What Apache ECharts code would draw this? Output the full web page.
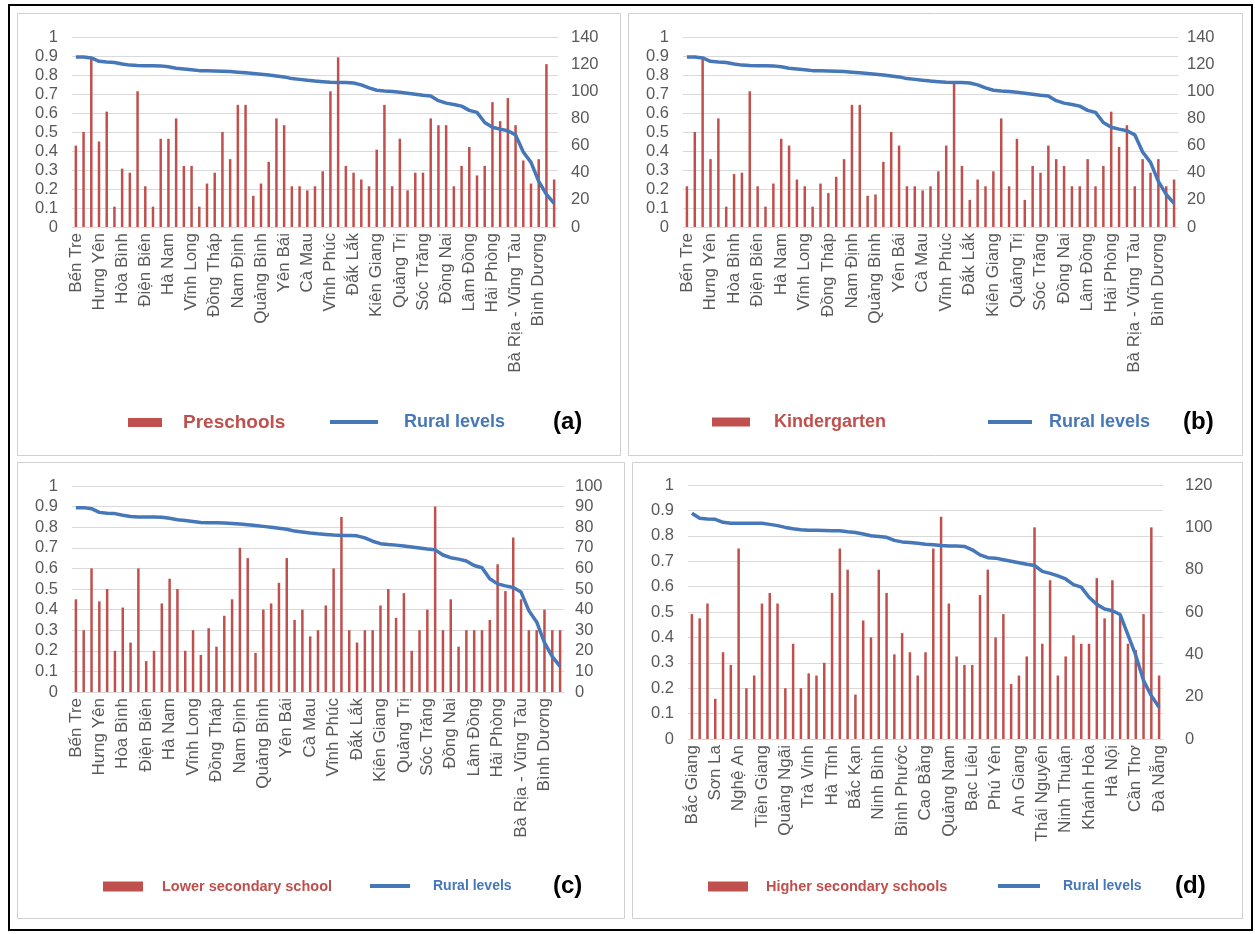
<!DOCTYPE html>
<html>
<head>
<meta charset="utf-8">
<script src="https://cdn.jsdelivr.net/npm/echarts@6/dist/echarts.min.js"></script>
<style>
html,body{margin:0;padding:0;background:#fff;}
#chart{width:1255px;height:934px;}
</style>
</head>
<body>
<div id="chart"></div>
<script>
// Categories (provinces) – every third label is shown
const provincesABC = ["Bến Tre","Bắc Giang","TP Hồ Chí Minh","Hưng Yên","Sơn La","Hà Giang","Hòa Bình","Nghệ An","Tuyên Quang","Điện Biên","Tiền Giang","Lào Cai","Hà Nam","Quảng Ngãi","Lai Châu","Vĩnh Long","Trà Vinh","Lạng Sơn","Đồng Tháp","Hà Tĩnh","Quảng Ninh","Nam Định","Bắc Kạn","Phú Thọ","Quảng Bình","Ninh Bình","Bắc Ninh","Yên Bái","Bình Phước","Hải Dương","Cà Mau","Cao Bằng","Thái Bình","Vĩnh Phúc","Quảng Nam","Thanh Hóa","Đắk Lắk","Bạc Liêu","Thừa Thiên Huế","Kiên Giang","Phú Yên","Bình Định","Quảng Trị","An Giang","Bình Thuận","Sóc Trăng","Thái Nguyên","Kon Tum","Đồng Nai","Ninh Thuận","Gia Lai","Lâm Đồng","Khánh Hòa","Đắk Nông","Hải Phòng","Hà Nội","Tây Ninh","Bà Rịa - Vũng Tàu","Cần Thơ","Long An","Bình Dương","Đà Nẵng","Hậu Giang"];
const provincesD = ["Bắc Giang","TP Hồ Chí Minh","Hưng Yên","Sơn La","Hà Giang","Hòa Bình","Nghệ An","Tuyên Quang","Điện Biên","Tiền Giang","Lào Cai","Hà Nam","Quảng Ngãi","Lai Châu","Vĩnh Long","Trà Vinh","Lạng Sơn","Đồng Tháp","Hà Tĩnh","Quảng Ninh","Nam Định","Bắc Kạn","Phú Thọ","Quảng Bình","Ninh Bình","Bắc Ninh","Yên Bái","Bình Phước","Hải Dương","Cà Mau","Cao Bằng","Thái Bình","Vĩnh Phúc","Quảng Nam","Thanh Hóa","Đắk Lắk","Bạc Liêu","Thừa Thiên Huế","Kiên Giang","Phú Yên","Bình Định","Quảng Trị","An Giang","Bình Thuận","Sóc Trăng","Thái Nguyên","Kon Tum","Đồng Nai","Ninh Thuận","Gia Lai","Lâm Đồng","Khánh Hòa","Đắk Nông","Hải Phòng","Hà Nội","Tây Ninh","Bà Rịa - Vũng Tàu","Cần Thơ","Long An","Bình Dương","Đà Nẵng"];

// Rural levels (left axis, 0–1)
const ruralABC = [0.895,0.895,0.89,0.872,0.868,0.866,0.858,0.852,0.85,0.849,0.849,0.848,0.843,0.836,0.832,0.828,0.823,0.822,0.821,0.82,0.818,0.815,0.812,0.808,0.804,0.8,0.795,0.79,0.781,0.777,0.772,0.768,0.765,0.762,0.76,0.76,0.758,0.748,0.732,0.72,0.716,0.713,0.709,0.704,0.699,0.694,0.69,0.665,0.652,0.645,0.636,0.614,0.603,0.55,0.525,0.515,0.507,0.485,0.395,0.34,0.24,0.172,0.124];
const ruralD = [0.889,0.869,0.866,0.865,0.853,0.849,0.849,0.849,0.849,0.849,0.845,0.84,0.833,0.828,0.824,0.822,0.822,0.821,0.82,0.82,0.816,0.813,0.807,0.8,0.797,0.794,0.782,0.776,0.774,0.771,0.767,0.765,0.762,0.76,0.76,0.758,0.745,0.725,0.714,0.712,0.706,0.7,0.694,0.688,0.683,0.66,0.652,0.642,0.63,0.608,0.598,0.558,0.53,0.512,0.505,0.49,0.41,0.33,0.23,0.17,0.125];

// School values (right axis)
const preschools = [60,70,125,63,85,15,43,40,100,30,15,65,65,80,45,45,15,32,40,70,50,90,90,23,32,48,80,75,30,30,27,30,41,100,125,45,40,35,30,57,90,30,65,27,40,40,80,75,75,30,45,59,38,45,92,78,95,75,49,32,50,120,35];
const kindergarten = [30,70,125,50,80,15,39,40,100,30,15,32,65,60,35,30,15,32,25,37,50,90,90,23,24,48,70,60,30,30,27,30,41,60,106,45,20,35,30,41,80,30,65,20,45,40,60,50,45,30,30,50,30,45,85,59,75,30,50,40,50,30,35];
const lowerSecondary = [45,30,60,44,50,20,41,24,60,15,20,43,55,50,20,30,18,31,22,37,45,70,65,19,40,43,53,65,35,40,27,30,42,60,85,30,24,30,30,42,50,36,48,20,30,40,90,30,45,22,30,30,30,35,62,49,75,45,30,30,40,30,30];
const higherSecondary = [59,57,64,19,41,35,90,24,30,64,69,64,24,45,24,31,30,36,69,90,80,21,56,48,80,69,40,50,41,30,41,90,105,64,39,35,35,68,80,48,59,26,30,39,100,45,75,30,39,49,45,45,76,57,75,58,45,42,59,100,30];

// Axis tick settings
const leftTicks = {min:0, max:1, interval:0.1};
const rightTicks = [{max:140, interval:20},{max:140, interval:20},{max:100, interval:10},{max:120, interval:20}];
const barNames = ["Preschools","Kindergarten","Lower secondary school","Higher secondary schools"];
const panelTags = ["(a)","(b)","(c)","(d)"];

const RED = '#c0504d', BLUE = '#4677b8', GRAY = '#595959';
const FONT = 'Liberation Sans';

const grids = [
  {left:72, top:37, width:486, height:190},
  {left:683, top:37, width:495, height:190},
  {left:72, top:486, width:492, height:206},
  {left:688, top:485, width:475, height:254}
];
const rightMargins = [13, 9, 11, 22];
const cats = [provincesABC, provincesABC, provincesABC, provincesD];
const bars = [preschools, kindergarten, lowerSecondary, higherSecondary];
const lines = [ruralABC, ruralABC, ruralABC, ruralD];

const xAxis = [], yAxis = [], series = [], legend = [];
grids.forEach((g, i) => {
  xAxis.push({
    type:'category', gridIndex:i, data:cats[i],
    axisLine:{show:true, lineStyle:{color:'#d9d9d9'}},
    axisTick:{show:false},
    axisLabel:{interval:2, rotate:90, fontSize:17, color:GRAY, fontFamily:FONT, margin:6}
  });
  yAxis.push({
    type:'value', gridIndex:i, min:leftTicks.min, max:leftTicks.max, interval:leftTicks.interval,
    axisLine:{show:false}, axisTick:{show:false},
    axisLabel:{fontSize:16.5, color:GRAY, fontFamily:FONT, margin:14},
    splitLine:{lineStyle:{color:'#d9d9d9'}}
  });
  yAxis.push({
    type:'value', gridIndex:i, position:'right', min:0, max:rightTicks[i].max, interval:rightTicks[i].interval,
    axisLine:{show:false}, axisTick:{show:false},
    axisLabel:{fontSize:16.5, color:GRAY, fontFamily:FONT, margin:rightMargins[i]},
    splitLine:{show:false}
  });
  series.push({
    name:barNames[i], type:'bar', xAxisIndex:i, yAxisIndex:2*i+1, data:bars[i],
    barWidth:2.5, itemStyle:{color:RED}, silent:true
  });
  series.push({
    name:'Rural levels', type:'line', xAxisIndex:i, yAxisIndex:2*i, data:lines[i],
    symbol:'none', lineStyle:{color:BLUE, width:3.5}, itemStyle:{color:BLUE}, silent:true, z:5
  });
});

const legendPos = [
  {bar:{left:128, top:413, w:34, h:9, pad:16, fs:19}, line:{left:330, top:413, w:48, pad:21, fs:18}},
  {bar:{left:712, top:413, w:38, h:9, pad:19, fs:18}, line:{left:988, top:413, w:44, pad:12, fs:18}},
  {bar:{left:103, top:879, w:40, h:10, pad:14, fs:14.5}, line:{left:370, top:879, w:40, pad:18, fs:14}},
  {bar:{left:708, top:879, w:40, h:10, pad:13, fs:14.5}, line:{left:998, top:879, w:42, pad:18, fs:14}}
];
legendPos.forEach((p, i) => {
  legend.push({
    left:p.bar.left, top:p.bar.top, padding:0, itemWidth:p.bar.w, itemHeight:p.bar.h,
    data:[{name:barNames[i], icon:'rect'}], selectedMode:false,
    textStyle:{color:RED, fontWeight:'bold', fontSize:p.bar.fs, fontFamily:FONT, padding:[0,0,0,p.bar.pad]}
  });
  legend.push({
    left:p.line.left, top:p.line.top, padding:0, itemWidth:p.line.w, itemHeight:4,
    data:[{name:'Rural levels', icon:'rect'}], selectedMode:false,
    textStyle:{color:BLUE, fontWeight:'bold', fontSize:p.line.fs, fontFamily:FONT, padding:[0,0,0,p.line.pad]}
  });
});

const tagPos = [[553,410],[1183,410],[553,874],[1175,874]];
const graphic = [
  {type:'rect', shape:{x:9, y:5, width:1243, height:925}, style:{fill:null, stroke:'#000', lineWidth:2}, z:-1},
  {type:'rect', shape:{x:17.5, y:13.5, width:603, height:442}, style:{fill:null, stroke:'#d0d0d0', lineWidth:1}},
  {type:'rect', shape:{x:628.5, y:13.5, width:614, height:442}, style:{fill:null, stroke:'#d0d0d0', lineWidth:1}},
  {type:'rect', shape:{x:17.5, y:462.5, width:607, height:456}, style:{fill:null, stroke:'#d0d0d0', lineWidth:1}},
  {type:'rect', shape:{x:632.5, y:462.5, width:610, height:456}, style:{fill:null, stroke:'#d0d0d0', lineWidth:1}}
];
tagPos.forEach((t, i) => {
  graphic.push({type:'text', left:t[0], top:t[1], style:{text:panelTags[i], fontSize:24, fontWeight:'bold', fill:'#000', fontFamily:FONT}});
});

const chart = echarts.init(document.getElementById('chart'), null, {renderer:'canvas'});
chart.setOption({
  animation:false,
  backgroundColor:'#fff',
  grid:grids,
  xAxis, yAxis, series, legend, graphic
});
</script>
</body>
</html>
